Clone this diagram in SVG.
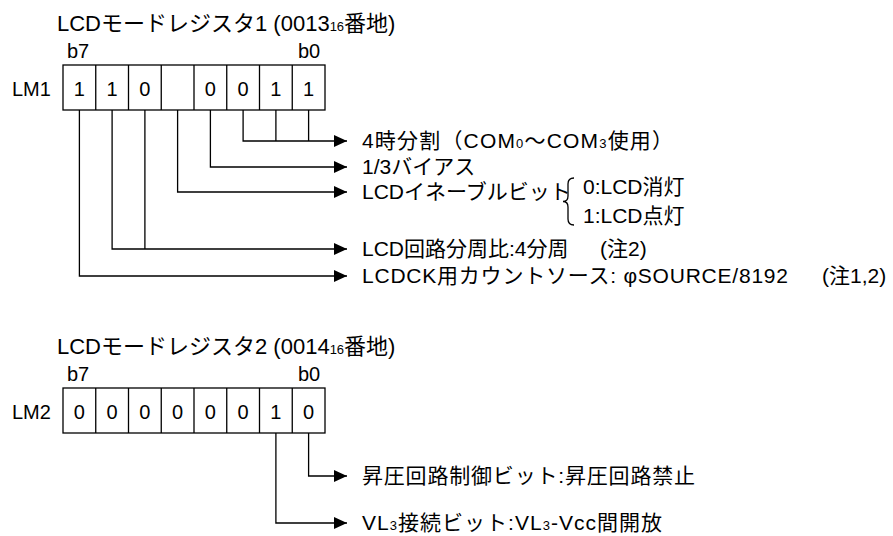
<svg xmlns="http://www.w3.org/2000/svg" width="893" height="536" viewBox="0 0 893 536">
<defs>
<style>
text{font-family:"Liberation Sans","Noto Sans CJK JP",sans-serif;fill:#000}
.t{font-size:21px}
.h{font-size:22px}
.s{font-size:20px}
.c{font-size:20px;text-anchor:middle}
.sub{font-size:13px}
.box{fill:#fff;stroke:#000;stroke-width:1.3}
.ln{fill:none;stroke:#000;stroke-width:1.3}
</style>
<marker id="ah" markerWidth="14" markerHeight="12" refX="13" refY="6" orient="auto" markerUnits="userSpaceOnUse">
<path d="M0,0 L13,6 L0,12 z" fill="#000"/>
</marker>
</defs>
<rect width="893" height="536" fill="#fff"/>

<g id="reg1">
<text class="h" x="57" y="31">LCDモードレジスタ1 (0013<tspan class="sub">16</tspan>番地)</text>
<text class="s" x="67" y="58">b7</text>
<text class="s" x="298" y="58">b0</text>
<text class="s" x="12" y="96">LM1</text>
<rect class="box" x="63" y="65" width="262" height="45"/>
<path class="ln" d="M95.75,65V110M128.5,65V110M161.25,65V110M194,65V110M226.75,65V110M259.5,65V110M292.25,65V110"/>
<text class="c" x="79.4" y="96">1</text>
<text class="c" x="112.1" y="96">1</text>
<text class="c" x="144.9" y="96">0</text>
<text class="c" x="210.4" y="96">0</text>
<text class="c" x="243.1" y="96">0</text>
<text class="c" x="275.9" y="96">1</text>
<text class="c" x="308.6" y="96">1</text>
</g>

<g id="reg2">
<text class="h" x="57" y="354">LCDモードレジスタ2 (0014<tspan class="sub">16</tspan>番地)</text>
<text class="s" x="67" y="381">b7</text>
<text class="s" x="298" y="381">b0</text>
<text class="s" x="12" y="419">LM2</text>
<rect class="box" x="63" y="388" width="262" height="45"/>
<path class="ln" d="M95.75,388V433M128.5,388V433M161.25,388V433M194,388V433M226.75,388V433M259.5,388V433M292.25,388V433"/>
<text class="c" x="79.4" y="419">0</text>
<text class="c" x="112.1" y="419">0</text>
<text class="c" x="144.9" y="419">0</text>
<text class="c" x="177.6" y="419">0</text>
<text class="c" x="210.4" y="419">0</text>
<text class="c" x="243.1" y="419">0</text>
<text class="c" x="275.9" y="419">1</text>
<text class="c" x="308.6" y="419">0</text>
</g>

<g id="connectors">
<path class="ln" d="M308.6,110V141M275.9,110V141M243.1,110V141H347" marker-end="url(#ah)"/>
<path class="ln" d="M210.4,110V167H347" marker-end="url(#ah)"/>
<path class="ln" d="M177.6,110V192H347" marker-end="url(#ah)"/>
<path class="ln" d="M144.9,110V249M112.1,110V249H347" marker-end="url(#ah)"/>
<path class="ln" d="M79.4,110V276H347" marker-end="url(#ah)"/>
<path class="ln" d="M308.6,433V476H347" marker-end="url(#ah)"/>
<path class="ln" d="M275.9,433V523H347" marker-end="url(#ah)"/>
<path class="ln" d="M574,178Q568,178 568,184V196Q568,201.5 563,201.5Q568,201.5 568,207V219Q568,225 574,225"/>
</g>

<g id="labels">
<text class="t" x="362" y="148" textLength="311" lengthAdjust="spacing">4時分割（COM<tspan class="sub">0</tspan>〜COM<tspan class="sub">3</tspan>使用）</text>
<text class="t" x="362" y="174">1/3バイアス</text>
<text class="t" x="362" y="199">LCDイネーブルビット</text>
<text class="t" x="583" y="194">0:LCD消灯</text>
<text class="t" x="583" y="223">1:LCD点灯</text>
<text class="t" x="362" y="256">LCD回路分周比:4分周</text>
<text class="t" x="600" y="256">(注2)</text>
<text class="t" x="362" y="283" textLength="426" lengthAdjust="spacing">LCDCK用カウントソース: φSOURCE/8192</text>
<text class="t" x="822" y="283">(注1,2)</text>
<text class="t" x="362" y="483" textLength="333" lengthAdjust="spacing">昇圧回路制御ビット:昇圧回路禁止</text>
<text class="t" x="362" y="530" textLength="300" lengthAdjust="spacing">VL<tspan class="sub">3</tspan>接続ビット:VL<tspan class="sub">3</tspan>-Vcc間開放</text>
</g>
</svg>
